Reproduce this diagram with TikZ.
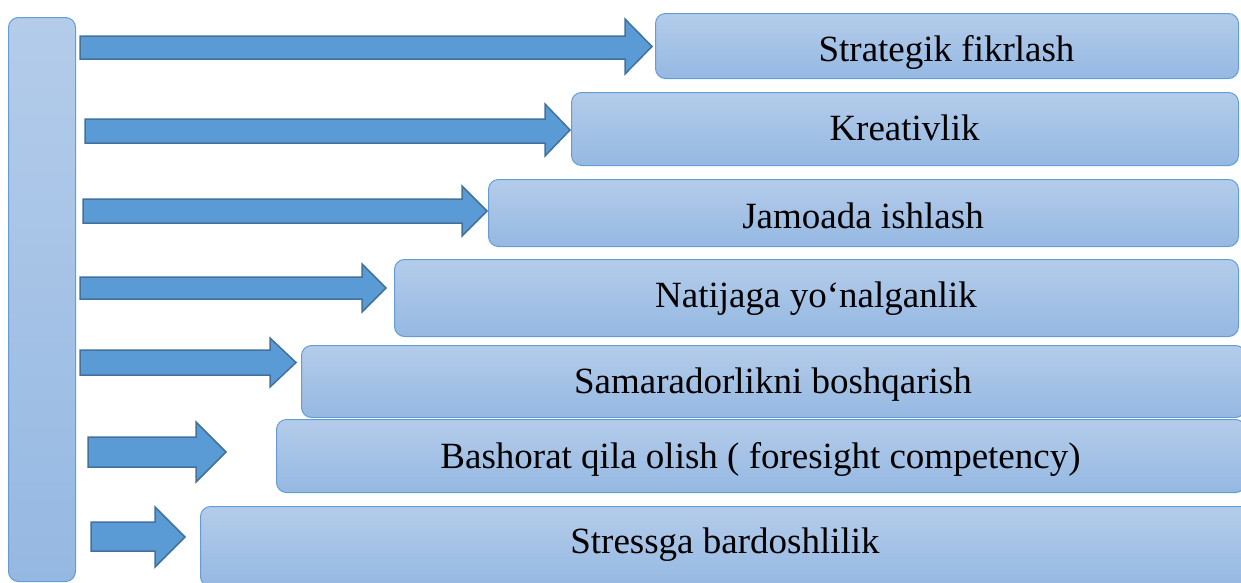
\documentclass[tikz,border=0pt]{standalone}
\usepackage{fontspec}
\setmainfont{Liberation Serif}
\definecolor{boxtop}{RGB}{180,204,234}
\definecolor{boxbot}{RGB}{149,184,226}
\definecolor{boxline}{RGB}{98,157,214}
\definecolor{arrfill}{RGB}{91,155,213}
\definecolor{arrline}{RGB}{65,113,156}
\tikzset{
  box/.style={draw=boxline, line width=1pt, top color=boxtop, bottom color=boxbot,
    rounded corners=10pt, anchor=north west, inner sep=0pt},
  lbl/.style={anchor=base, inner sep=0pt, font=\fontsize{37}{42}\selectfont},
  blockarrow/.style={draw=arrline, fill=arrfill, line width=1.5pt, line join=miter}
}
\newcommand{\blockarr}[7]{% x0, ytop, ybot, xhead, headtop, headbot, xtip
  \draw[blockarrow] (#1,#2) -- (#4,#2) -- (#4,#5) -- (#7,{(#5+#6)/2}) -- (#4,#6) -- (#4,#3) -- (#1,#3) -- cycle;}
\begin{document}
\begin{tikzpicture}[x=1pt,y=-1pt]
\useasboundingbox (0,0) rectangle (1241,582);
\clip (0,0) rectangle (1241,582);
\node[box, minimum width=67pt, minimum height=564pt] (bar) at (8,17) {};
\node[box, minimum width=583pt, minimum height=65pt] (b1) at (655,13) {};
\node[box, minimum width=667pt, minimum height=73pt] (b2) at (571,92) {};
\node[box, minimum width=750pt, minimum height=67pt] (b3) at (488,179) {};
\node[box, minimum width=844pt, minimum height=77pt] (b4) at (394,259) {};
\node[box, minimum width=944pt, minimum height=72pt] (b5) at (301,345) {};
\node[box, minimum width=969pt, minimum height=73pt] (b6) at (276,419) {};
\node[box, minimum width=1050pt, minimum height=80pt] (b7) at (200,506) {};
\node[lbl] (t1) at (946.5,61.5) {Strategik fikrlash};
\node[lbl] (t2) at (904.5,140) {Kreativlik};
\node[lbl] (t3) at (863,228) {Jamoada ishlash};
\node[lbl] (t4) at (816,307) {Natijaga yo‘nalganlik};
\node[lbl] (t5) at (773,393) {Samaradorlikni boshqarish};
\node[lbl] (t6) at (760.5,468) {Bashorat qila olish ( foresight competency)};
\node[lbl] (t7) at (725,553) {Stressga bardoshlilik};
\blockarr{80}{36}{59}{625}{19}{74}{652}
\blockarr{85}{119}{143}{545}{104}{156}{570}
\blockarr{83}{199}{223}{462}{186}{236}{487}
\blockarr{80}{277}{299}{362}{264}{312}{386}
\blockarr{80}{350}{375}{270}{338}{387}{296}
\blockarr{88}{437}{467}{196}{422}{482}{226}
\blockarr{91}{522}{551}{155}{507}{567}{185}
\end{tikzpicture}
\end{document}
